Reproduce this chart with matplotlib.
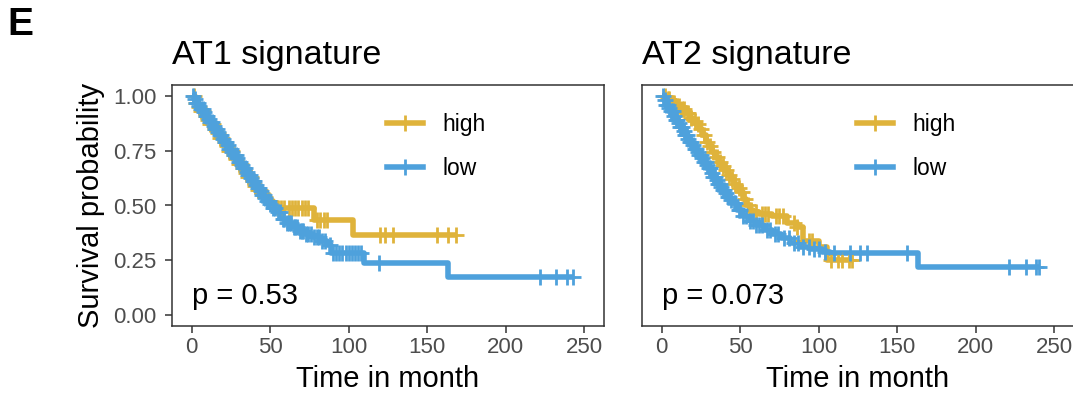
import numpy as np
import matplotlib
matplotlib.use("Agg")
import matplotlib.pyplot as plt
from matplotlib.lines import Line2D

plt.rcParams['font.family'] = ['Liberation Sans', 'DejaVu Sans']

# ---------------- data ----------------
groups = ["high", "low"]
colors = {"high": "#DFB33B", "low": "#4EA1DC"}

titles = ["AT1 signature", "AT2 signature"]
pvals = ["p = 0.53", "p = 0.073"]
x_ticks = [0, 50, 100, 150, 200, 250]
y_ticks = [0.00, 0.25, 0.50, 0.75, 1.00]
y_ticklabels = ["0.00", "0.25", "0.50", "0.75", "1.00"]

# AT1 high
at1_high_t = [0, 2, 4, 6, 8, 10, 12, 14, 16, 18, 20, 22, 24, 26, 28, 30, 32, 34, 36, 38,
              40, 42, 44, 46, 48, 52, 78, 103]
at1_high_s = [1.00, 0.97, 0.95, 0.93, 0.91, 0.89, 0.87, 0.85, 0.83, 0.81, 0.79, 0.77, 0.75,
              0.73, 0.71, 0.69, 0.67, 0.65, 0.63, 0.61, 0.59, 0.57, 0.555, 0.54, 0.52,
              0.49, 0.434, 0.367]
at1_high_end = 168
at1_high_cens = [1.5, 3, 4.5, 6, 7.5, 9, 10.5, 12, 13.5, 15, 16.5, 18, 19.5, 21, 22.5, 24,
                 25.5, 27, 28.5, 30, 31.5, 33, 34.5, 36, 37.5, 39, 40.5, 42, 43.5, 45, 47,
                 50, 55, 57, 59, 62, 64, 66, 68, 70, 72, 74, 80, 82, 84, 86, 120, 123, 128,
                 156, 163, 168]

# AT1 low
at1_low_t = [0, 1.5, 3, 4.5, 6, 7.5, 9, 10.5, 12, 13.5, 15, 16.5, 18, 19.5, 21, 22.5, 24,
             25.5, 27, 28.5, 30, 31.5, 33, 34.5, 36, 37.5, 39, 40.5, 42, 43.5, 45, 46.5, 48,
             49.5, 51, 54, 57, 60, 64, 68, 72, 77, 82, 86, 89, 110, 163]
at1_low_s = [1.00, 0.985, 0.97, 0.955, 0.94, 0.925, 0.91, 0.895, 0.88, 0.865, 0.85, 0.835,
             0.82, 0.805, 0.79, 0.775, 0.76, 0.745, 0.73, 0.715, 0.70, 0.685, 0.67, 0.655,
             0.64, 0.625, 0.61, 0.595, 0.58, 0.565, 0.55, 0.535, 0.52, 0.505, 0.49,
             0.47, 0.44, 0.42, 0.40, 0.385, 0.37, 0.355, 0.34, 0.32, 0.285, 0.237, 0.174]
at1_low_end = 243
at1_low_cens = [1, 2, 3, 4, 5, 6, 7, 8, 9, 10, 11, 12, 13, 14, 15, 16, 17, 18, 19, 20, 21,
                22, 23, 24, 25, 26, 27, 28, 29, 30, 31, 32, 33, 34, 35, 36, 37, 38, 39, 40,
                41, 42, 43, 44, 45, 46, 47, 48, 49, 50, 52, 53, 55, 56, 58, 59, 61, 62, 63,
                65, 66, 67, 69, 70, 71, 73, 74, 76, 78, 80, 81, 83, 85, 88, 90, 92, 94, 96,
                98, 100, 102, 104, 106, 108, 119, 222, 232, 239, 243]

# AT2 high
at2_high_t = [0, 3, 6, 9, 12, 15, 18, 20, 22, 24, 26, 28, 30, 32, 34, 36, 38, 40, 42, 44,
              46, 48, 50, 52, 54, 56, 58, 62, 70, 80, 86, 90, 100, 105]
at2_high_s = [1.00, 0.985, 0.97, 0.955, 0.94, 0.92, 0.90, 0.885, 0.87, 0.85, 0.82, 0.79,
              0.77, 0.745, 0.72, 0.70, 0.68, 0.66, 0.64, 0.62, 0.60, 0.58, 0.56, 0.53,
              0.50, 0.48, 0.47, 0.46, 0.45, 0.42, 0.40, 0.34, 0.31, 0.25]
at2_high_end = 121
at2_high_cens = [2, 4, 5, 7, 8, 10, 11, 13, 14, 16, 17, 19, 21, 23, 25, 27, 29, 31, 33, 35,
                 37, 39, 41, 43, 45, 47, 49, 51, 53, 55, 57, 60, 64, 66, 68, 73, 75, 77,
                 84, 86, 90, 94, 96, 108, 112, 115, 119, 121]

# AT2 low
at2_low_t = [0, 1.5, 3, 4.5, 6, 7.5, 9, 10.5, 12, 13.5, 15, 16.5, 18, 19.5, 21, 22.5, 24,
             25.5, 27, 28.5, 30, 31.5, 33, 34.5, 36, 37.5, 39, 40.5, 42, 43.5, 45, 48, 52,
             56, 60, 65, 70, 76, 82, 88, 95, 102, 107, 163]
at2_low_s = [1.00, 0.98, 0.96, 0.945, 0.93, 0.91, 0.89, 0.875, 0.86, 0.84, 0.82, 0.805,
             0.79, 0.775, 0.76, 0.745, 0.73, 0.715, 0.70, 0.685, 0.67, 0.65, 0.63, 0.615,
             0.60, 0.585, 0.57, 0.555, 0.54, 0.525, 0.51, 0.48, 0.45, 0.43, 0.41, 0.39,
             0.37, 0.35, 0.33, 0.31, 0.30, 0.29, 0.283, 0.219]
at2_low_end = 240
at2_low_cens = [1, 2, 3, 4, 5, 6, 7, 8, 9, 10, 11, 12, 13, 14, 15, 16, 17, 18, 19, 20, 21,
                22, 23, 24, 25, 26, 27, 28, 29, 30, 31, 32, 33, 34, 35, 36, 37, 38, 39, 40,
                41, 42, 43, 44, 46, 47, 49, 50, 52, 54, 56, 58, 60, 62, 64, 67, 69, 72, 74,
                78, 81, 84, 87, 90, 94, 97, 100, 104, 110, 120, 126, 131, 156, 221, 232,
                238, 240]

panels = [
    {"high": (at1_high_t, at1_high_s, at1_high_end, at1_high_cens),
     "low": (at1_low_t, at1_low_s, at1_low_end, at1_low_cens)},
    {"high": (at2_high_t, at2_high_s, at2_high_end, at2_high_cens),
     "low": (at2_low_t, at2_low_s, at2_low_end, at2_low_cens)},
]

# ---------------- figure ----------------
W, H = 1073, 393
fig = plt.figure(figsize=(W / 100, H / 100), dpi=100)

ax_left_px = [172, 642]
ax_w_px = 432
ax_top_px, ax_bot_px = 85, 326

dark = "#333333"
tickc = "#4D4D4D"
LW = 4.0
MS = 12
MEW = 2.0

for i, pdata in enumerate(panels):
    ax = fig.add_axes([ax_left_px[i] / W, 1 - ax_bot_px / H, ax_w_px / W,
                       (ax_bot_px - ax_top_px) / H])
    for g in ["high", "low"]:
        t, s, tend, cens = pdata[g]
        t = np.asarray(t, float)
        s = np.asarray(s, float)
        tt = np.append(t, tend)
        ss = np.append(s, s[-1])
        ax.step(tt, ss, where="post", color=colors[g], lw=LW, solid_joinstyle="round",
                solid_capstyle="butt", zorder=2)
        c = np.asarray(cens, float)
        idx = np.searchsorted(t, c, side="right") - 1
        ax.plot(c, s[idx], ls="none", marker="+", ms=MS, mew=MEW, color=colors[g], zorder=3)

    ax.set_xlim(-12.5, 262.5)
    ax.set_ylim(-0.05, 1.05)
    ax.set_xticks(x_ticks)
    ax.set_xticklabels([str(v) for v in x_ticks])
    for sp in ax.spines.values():
        sp.set_color(dark)
        sp.set_linewidth(1.1)
    ax.tick_params(axis="x", length=5, width=1.1, color=dark, labelcolor=tickc,
                   labelsize=16, pad=3)
    if i == 0:
        ax.set_yticks(y_ticks)
        ax.set_yticklabels(y_ticklabels)
        ax.tick_params(axis="y", length=5, width=1.1, color=dark, labelcolor=tickc,
                       labelsize=16, pad=6)
        ax.set_ylabel("Survival probability", fontsize=21, color="black")
        ax.yaxis.set_label_coords(-0.155, 0.5)
    else:
        ax.set_yticks([])

    ax.set_xlabel("Time in month", fontsize=21, color="black")
    ax.xaxis.set_label_coords(0.5, -0.163)
    ax.set_title(titles[i], loc="left", fontsize=24.5, pad=15)

    ax.text(0, 0.05, pvals[i], fontsize=21, ha="left", va="baseline", zorder=4)

    handles = [Line2D([0], [0], color=colors[g], lw=LW, marker="+", ms=MS, mew=MEW)
               for g in groups]
    ax.legend(handles, groups, loc="upper left", bbox_to_anchor=(0.497, 0.885),
              frameon=False, fontsize=16.5, handlelength=1.6, handletextpad=0.85,
              labelspacing=0.95, borderpad=0, borderaxespad=0)

fig.text(7 / W, 1 - 35 / H, "E", fontsize=28, fontweight="bold", va="baseline", ha="left")

fig.savefig("out.png", dpi=100)
